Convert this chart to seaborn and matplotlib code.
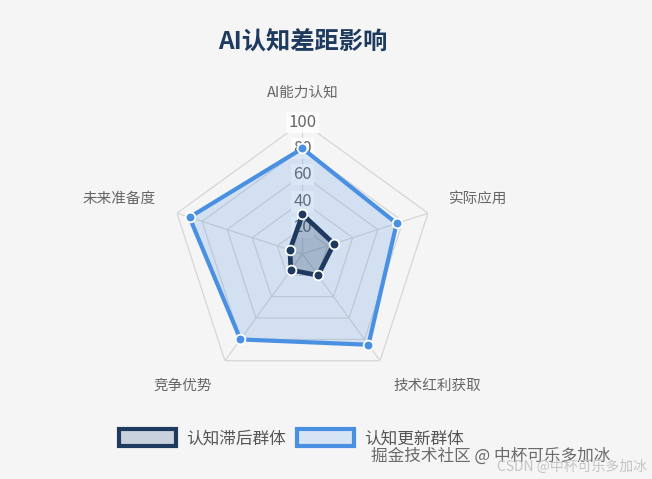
import numpy as np
import seaborn as sns
import matplotlib.pyplot as plt
from matplotlib.patches import Patch

# indicators, clockwise from the top
indicators = ['AI能力认知', '实际应用', '技术红利获取', '竞争优势', '未来准备度']
lagging = [30, 25, 20, 15, 10]      # 认知滞后群体
updated = [80, 75, 85, 80, 90]      # 认知更新群体
ring_levels = [20, 40, 60, 80, 100]
series_names = ['认知滞后群体', '认知更新群体']

NAVY = '#1e3a5f'
BLUE = '#4a90e2'
BG = '#f5f5f5'


def main():
    sns.set_theme(style='white')
    plt.rcParams['font.family'] = ['Noto Sans CJK SC', 'DejaVu Sans']

    fig = plt.figure(figsize=(6.52, 4.79), dpi=100, facecolor=BG)
    ax = fig.add_axes([0.2615, 0.1942, 0.4049, 0.5511], projection='polar')
    ax.set_facecolor('none')
    ax.set_theta_offset(np.pi / 2)
    ax.set_theta_direction(-1)
    ax.set_ylim(0, 100)
    ax.set_xticks([])
    ax.set_yticks([])
    ax.grid(False)
    ax.spines['polar'].set_visible(False)

    n = len(indicators)
    angles = np.linspace(0, 2 * np.pi, n, endpoint=False)
    closed = np.append(angles, 2 * np.pi)

    # pentagon grid rings and spokes
    for lvl in ring_levels:
        ax.plot(closed, [lvl] * (n + 1), color='#d6d6d6', lw=0.9, zorder=1)
    for a in angles:
        ax.plot([a, a], [0, 100], color='#d6d6d6', lw=0.9, zorder=1)

    # radial value labels on the top axis
    for lvl in ring_levels:
        ax.text(0, lvl, str(lvl), ha='center', va='center', fontsize=12,
                color='#666666', zorder=2,
                bbox=dict(facecolor='white', edgecolor='none', alpha=0.85, pad=1.5))

    # indicator names
    for a, name in zip(angles, indicators):
        s, c = np.sin(a), np.cos(a)
        ha = 'center' if abs(s) < 1e-6 else ('left' if s > 0 else 'right')
        va = 'center' if abs(c) < 1e-6 else ('bottom' if c > 0 else 'top')
        ax.text(a, 117, name, ha=ha, va=va, fontsize=10.5, color='#666666')

    # series
    for vals, col, fa, z, lw in [(updated, BLUE, 0.2, 3, 3), (lagging, NAVY, 0.25, 5, 3.4)]:
        v = list(vals) + [vals[0]]
        ax.fill(closed, v, color=col, alpha=fa, lw=0, zorder=z)
        sns.lineplot(x=closed, y=v, ax=ax, sort=False, estimator=None,
                     color=col, lw=lw, zorder=z + 0.5)
        ax.plot(angles, vals, 'o', color=col, ms=7, mec='white', mew=1.3,
                zorder=z + 0.6, clip_on=False)

    fig.text(0.4647, 1 - 43 / 479, 'AI认知差距影响', ha='center', va='center',
             fontsize=17.5, fontweight='bold', color=NAVY)

    handles = [
        Patch(facecolor='#c9d1dd', edgecolor=NAVY, lw=3, label=series_names[0]),
        Patch(facecolor='#d6e4f5', edgecolor=BLUE, lw=3, label=series_names[1]),
    ]
    leg = fig.legend(handles=handles, loc='center', bbox_to_anchor=(0.447, 1 - 438 / 479),
                     ncol=2, frameon=False, fontsize=12, handlelength=3.4,
                     handleheight=1.2, handletextpad=0.6, columnspacing=0.7)
    for t in leg.get_texts():
        t.set_color('#555555')

    # watermarks
    fig.text(0.9355, 1 - 456 / 479, '掘金技术社区 @ 中杯可乐多加冰', ha='right', va='center',
             fontsize=12, color='#6a6a6a')
    fig.text(0.992, 1 - 467 / 479, 'CSDN @中杯可乐多加冰', ha='right', va='center',
             fontsize=10, color='#c4c4c4')

    fig.savefig('out.png', dpi=100, facecolor=BG)


if __name__ == "__main__":
    main()
